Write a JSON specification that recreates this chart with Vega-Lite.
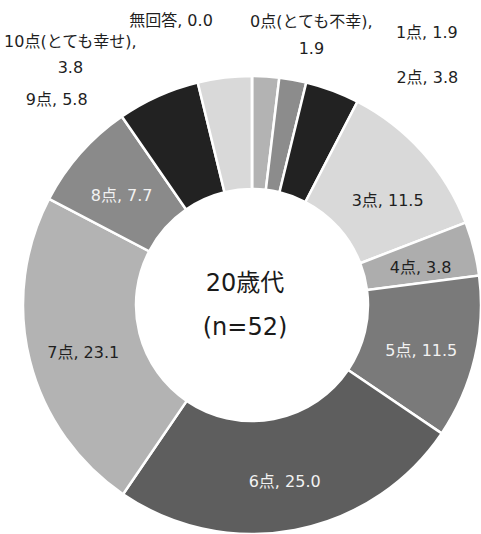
{
  "$schema": "https://vega.github.io/schema/vega-lite/v6.json",
  "width": 458,
  "height": 458,
  "autosize": "none",
  "padding": {"left": 23, "top": 76, "right": 0, "bottom": 0},
  "background": "white",
  "config": {"view": {"stroke": null}},
  "data": {"values": [
    {"cat": "0点(とても不幸)", "value": 1.9, "k": 0},
    {"cat": "1点", "value": 1.9, "k": 1},
    {"cat": "2点", "value": 3.8, "k": 2},
    {"cat": "3点", "value": 11.5, "k": 3},
    {"cat": "4点", "value": 3.8, "k": 4},
    {"cat": "5点", "value": 11.5, "k": 5},
    {"cat": "6点", "value": 25.0, "k": 6},
    {"cat": "7点", "value": 23.1, "k": 7},
    {"cat": "8点", "value": 7.7, "k": 8},
    {"cat": "9点", "value": 5.8, "k": 9},
    {"cat": "10点(とても幸せ)", "value": 3.8, "k": 10},
    {"cat": "無回答", "value": 0.0, "k": 11}
  ]},
  "transform": [
    {"stack": "value", "groupby": [], "sort": [{"field": "k", "order": "ascending"}], "as": ["v0", "v1"]},
    {"calculate": "(datum.v0 + datum.v1) / 2", "as": "mid"},
    {"calculate": "datum.cat + ((datum.k == 0 || datum.k == 10) ? ',\\n' : ', ') + format(datum.value, '.1f')", "as": "lbl"}
  ],
  "layer": [
    {
      "mark": {"type": "arc", "outerRadius": 229, "innerRadius": 116, "stroke": "white", "strokeWidth": 2.5},
      "encoding": {
        "theta": {"field": "v0", "type": "quantitative", "stack": null, "scale": {"domain": [0, 99.8]}},
        "theta2": {"field": "v1"},
        "color": {
          "field": "cat", "type": "nominal", "legend": null,
          "scale": {
            "domain": ["0点(とても不幸)", "1点", "2点", "3点", "4点", "5点", "6点", "7点", "8点", "9点", "10点(とても幸せ)", "無回答"],
            "range": ["#b3b3b3", "#8c8c8c", "#222222", "#d9d9d9", "#adadad", "#7a7a7a", "#5e5e5e", "#b3b3b3", "#8a8a8a", "#222222", "#d9d9d9", "#f2f2f2"]
          }
        }
      }
    },
    {
      "transform": [{"filter": "datum.k >= 4 && datum.k <= 8"}],
      "mark": {"type": "text", "radius": 174, "dy": 6, "font": "DejaVu Sans, Noto Sans CJK JP", "fontSize": 16, "align": "center", "baseline": "middle"},
      "encoding": {
        "theta": {"field": "mid", "type": "quantitative", "stack": null},
        "text": {"field": "lbl"},
        "color": {"condition": {"test": "datum.k == 5 || datum.k == 6 || datum.k == 8", "value": "#f2f2f2"}, "value": "#1f1f1f"}
      }
    },
    {
      "transform": [{"filter": "datum.k == 3"}],
      "mark": {"type": "text", "radius": 174, "dx": 6, "dy": 12, "font": "DejaVu Sans, Noto Sans CJK JP", "fontSize": 16, "align": "center", "baseline": "middle", "color": "#1f1f1f"},
      "encoding": {"theta": {"field": "mid", "type": "quantitative", "stack": null}, "text": {"field": "lbl"}}
    },
    {
      "transform": [{"filter": "datum.k == 0"}],
      "mark": {"type": "text", "radius": 240, "dx": 45, "dy": -43, "lineBreak": "\n", "lineHeight": 27, "font": "DejaVu Sans, Noto Sans CJK JP", "fontSize": 16, "align": "center", "baseline": "middle", "color": "#1f1f1f"},
      "encoding": {"theta": {"field": "mid", "type": "quantitative", "stack": null}, "text": {"field": "lbl"}}
    },
    {
      "transform": [{"filter": "datum.k == 1"}],
      "mark": {"type": "text", "radius": 240, "dx": 132, "dy": -36, "font": "DejaVu Sans, Noto Sans CJK JP", "fontSize": 16, "align": "center", "baseline": "middle", "color": "#1f1f1f"},
      "encoding": {"theta": {"field": "mid", "type": "quantitative", "stack": null}, "text": {"field": "lbl"}}
    },
    {
      "transform": [{"filter": "datum.k == 2"}],
      "mark": {"type": "text", "radius": 240, "dx": 91, "dy": -2, "font": "DejaVu Sans, Noto Sans CJK JP", "fontSize": 16, "align": "center", "baseline": "middle", "color": "#1f1f1f"},
      "encoding": {"theta": {"field": "mid", "type": "quantitative", "stack": null}, "text": {"field": "lbl"}}
    },
    {
      "transform": [{"filter": "datum.k == 9"}],
      "mark": {"type": "text", "radius": 240, "dx": -97, "dy": 14, "font": "DejaVu Sans, Noto Sans CJK JP", "fontSize": 16, "align": "center", "baseline": "middle", "color": "#1f1f1f"},
      "encoding": {"theta": {"field": "mid", "type": "quantitative", "stack": null}, "text": {"field": "lbl"}}
    },
    {
      "transform": [{"filter": "datum.k == 10"}],
      "mark": {"type": "text", "radius": 240, "dx": -153, "dy": -25, "lineBreak": "\n", "lineHeight": 26.5, "font": "DejaVu Sans, Noto Sans CJK JP", "fontSize": 16, "align": "center", "baseline": "middle", "color": "#1f1f1f"},
      "encoding": {"theta": {"field": "mid", "type": "quantitative", "stack": null}, "text": {"field": "lbl"}}
    },
    {
      "transform": [{"filter": "datum.k == 11"}],
      "mark": {"type": "text", "radius": 240, "dx": -81, "dy": -44, "font": "DejaVu Sans, Noto Sans CJK JP", "fontSize": 16, "align": "center", "baseline": "middle", "color": "#1f1f1f"},
      "encoding": {"theta": {"field": "mid", "type": "quantitative", "stack": null}, "text": {"field": "lbl"}}
    },
    {
      "data": {"values": [{"t": "20歳代\n(n=52)"}]},
      "mark": {"type": "text", "dx": -7, "dy": -21, "lineBreak": "\n", "lineHeight": 44, "font": "DejaVu Sans, Noto Sans CJK JP", "fontSize": 24, "align": "center", "baseline": "middle", "color": "#1a1a1a"},
      "encoding": {"text": {"field": "t"}}
    }
  ]
}
